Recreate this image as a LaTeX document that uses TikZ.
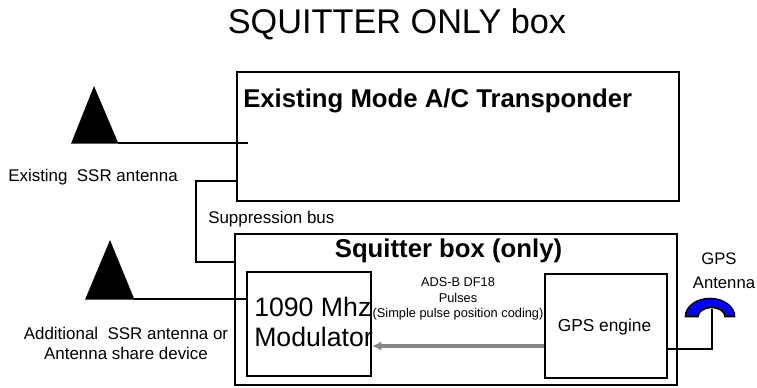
\documentclass[tikz,border=0pt]{standalone}
\usepackage{fontspec}
\setmainfont{Liberation Sans}
\usetikzlibrary{arrows.meta,calc}
\tikzset{
 px/.style={x=0.75pt,y=-0.75pt},
 boxn/.style={draw=black,line width=1.5pt,minimum width=#1,inner sep=0pt,anchor=north west},
 wire/.style={draw=black,line width=1.5pt},
 tri/.style={fill=black},
 lbl/.style={inner sep=0pt,align=center,text=black},
}
\begin{document}
\begin{tikzpicture}[px]
\useasboundingbox (0,0) rectangle (757,387);
\node[lbl,anchor=base,font=\fontsize{25.7}{25.7}\selectfont] (title) at (397,33) {SQUITTER ONLY box};
% boxes
\node[boxn=331.5pt,minimum height=96.75pt] (xpdr) at (236,71) {};
\node[boxn=331.5pt,minimum height=113.25pt] (sq) at (234,233) {};
\node[boxn=93pt,minimum height=78pt] (mod) at (246,271) {};
\node[boxn=91.5pt,minimum height=78pt] (gps) at (544,273) {};
% antennas
\coordinate (a1) at (118,143);
\coordinate (a2) at (134,299);
\coordinate (x1) at (248,143);
\fill[tri] (94,86) -- (71,143.7) -- (118.5,143.7) -- cycle;
\fill[tri] (110,240) -- (85,299.7) -- (134.5,299.7) -- cycle;
\draw[wire] (a1) -- (x1);
\draw[wire] (a2) -- (a2 -| mod.west);
% suppression bus
\draw[wire] (xpdr.west |- 0,181) -- (196,181) -- (196,262) -- (sq.west |- 0,262);
% pulses
\draw[draw=gray!95,line width=3pt,-{Latex[length=7pt,width=7pt]}] (gps.west |- 0,346) -- (mod.east |- 0,346);
% GPS antenna
\fill[fill=blue,draw=black,line width=1.2pt] (685.5,316.5) arc[start angle=180,end angle=360,x radius=24.5,y radius=18] -- (725,316.5) arc[start angle=360,end angle=180,x radius=13.5,y radius=9] -- cycle;
\draw[wire] (gps.east |- 0,349) -- (712,349) -- (712,309);
% labels
\node[lbl,font=\fontsize{19.3}{19.3}\selectfont\bfseries,anchor=base west] (t1) at (243,107) {Existing Mode A/C Transponder};
\node[lbl,font=\fontsize{19.3}{19.3}\selectfont\bfseries,anchor=base] (t2) at (448.5,257) {Squitter box (only)};
\node[lbl,font=\fontsize{12.7}{12.7}\selectfont,anchor=base west] (l1) at (8,181) {Existing\ \ SSR antenna};
\node[lbl,font=\fontsize{12.7}{12.7}\selectfont,anchor=base west] (l2) at (208,223) {Suppression bus};
\node[lbl,font=\fontsize{12.7}{15}\selectfont] (l3) at (126,343.6) {Additional\ \ SSR antenna or\\Antenna share device};
\node[lbl,font=\fontsize{20}{22.5}\selectfont,anchor=west,align=left] (l4) at (254,322.4) {1090 Mhz\\Modulator};
\node[lbl,font=\fontsize{9.6}{11.6}\selectfont] (l5) at (458,299.2) {ADS-B DF18\\Pulses\\(Simple pulse position coding)};
\node[lbl,font=\fontsize{13}{13}\selectfont,anchor=base] (l6) at (604.5,331) {GPS engine};
\node[lbl,font=\fontsize{12.5}{18}\selectfont] (l7) at (724,271) {GPS\hspace*{7.5pt}\\Antenna};
\end{tikzpicture}
\end{document}
